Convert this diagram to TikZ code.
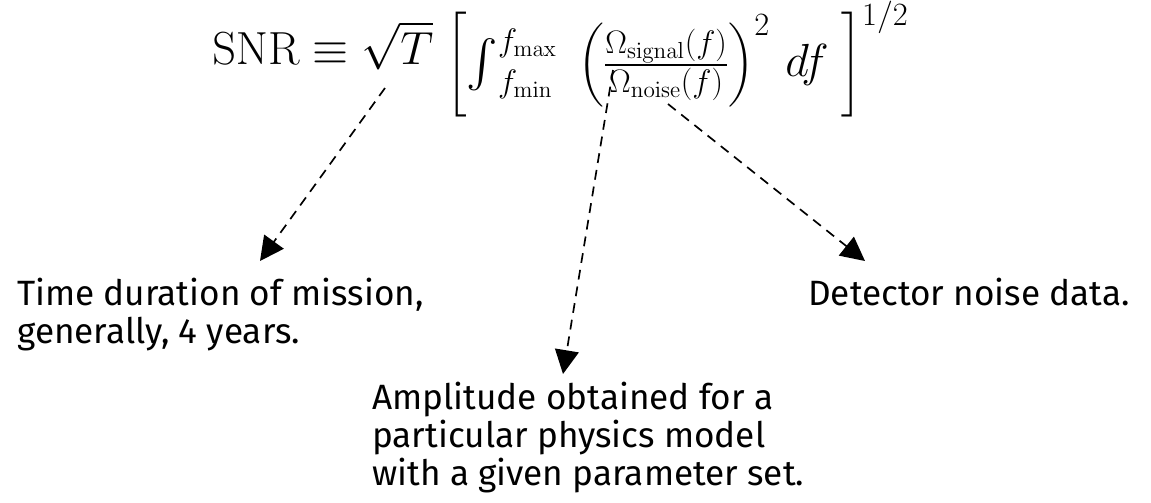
\RequirePackage{fix-cm}
\documentclass[tikz,border=0pt]{standalone}
\usepackage{amsmath}
\usepackage{graphicx}
\usepackage[no-math]{fontspec}
\usetikzlibrary{arrows.meta}
\newfontfamily\notefont{Fira Sans}

\begin{document}
\begin{tikzpicture}[
  x=0.025cm, y=-0.025cm,
  every node/.style={inner sep=0pt},
  eqn/.style={anchor=base west, font=\fontsize{33}{38}\selectfont},
  note/.style={font=\notefont\fontsize{25}{27}\selectfont, align=left, anchor=base west},
  pointer/.style={line width=1.2pt, dash pattern=on 7pt off 5pt,
                  -{Triangle[length=17pt,width=17pt]}}
]
\useasboundingbox (0,0) rectangle (1151,502);

\node[eqn] (snr) at (212,64)
  {$\mathrm{SNR} \equiv \sqrt{T}\;\raisebox{-9pt}{$\left[\mathop{\vcenter{\hbox{\scalebox{1.35}{$\int$}}}}\nolimits_{f_{\min}}^{f_{\max}}\;
    \left(\frac{\Omega_{\mathrm{signal}}(f)}{\Omega_{\mathrm{noise}}(f)}\right)^2\, df\;\right]^{1/2}$}$};

% base anchor sits on the last line
\node[note] (dur) at (17,343) {Time duration of mission,\\ generally, 4 years.};
\node[note] (det) at (808,305) {Detector noise data.};
\node[note] (amp) at (372,485) {Amplitude obtained for a\\ particular physics model\\ with a given parameter set.};

% tails at the formula, heads above the notes
\coordinate (tT) at (385,88);
\coordinate (tOm) at (613,70);
\coordinate (tN) at (668,104);
\coordinate (hT) at (260,261);
\coordinate (hOm) at (563,374);
\coordinate (hN) at (865,261);

\draw[pointer] (tT) -- (hT);
\draw[pointer] (tOm) -- (hOm);
\draw[pointer] (tN) -- (hN);

\end{tikzpicture}
\end{document}
